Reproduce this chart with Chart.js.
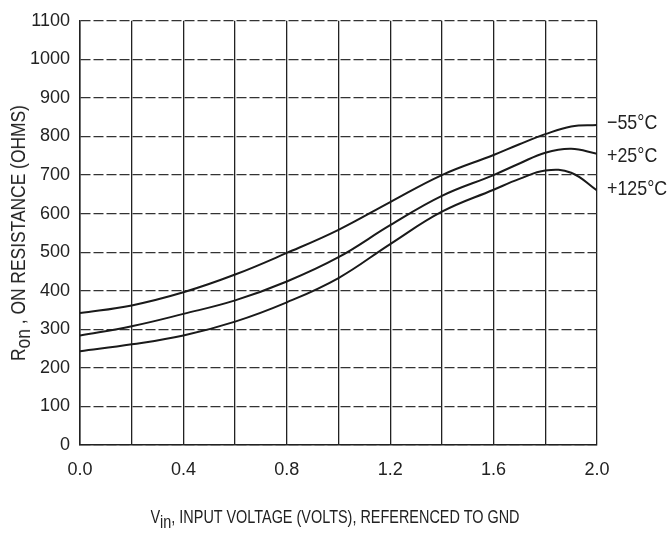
<!DOCTYPE html>
<html>
<head>
<meta charset="utf-8">
<script src="https://cdn.jsdelivr.net/npm/chart.js@4.4.1/dist/chart.umd.min.js"></script>
<style>
  body { margin: 0; background: #fff; }
  #wrap { position: relative; width: 670px; height: 536px; font-family: "Liberation Sans", Arial, sans-serif; color: #222; }
  #mycanvas { position: absolute; left: 0; top: 0; }
  .lbl { position: absolute; white-space: nowrap; line-height: 1; }
  #xtitle { font-size: 19px; left: 335px; top: 507px; transform: translateX(-50%) scaleX(0.76); }
  #ytitle { font-size: 20px; left: 18px; top: 233px; transform: translate(-50%, -50%) rotate(-90deg) scaleX(0.87); }
  sub { font-size: 1em; vertical-align: -5px; line-height: 0; }
  .tl { font-size: 21px; transform: scaleX(0.85); transform-origin: left center; }
</style>
</head>
<body>
<div id="wrap">
  <canvas id="mycanvas" width="670" height="536"></canvas>
  <div class="lbl" id="ytitle">R<sub>on</sub> , ON RESISTANCE (OHMS)</div>
  <div class="lbl" id="xtitle">V<sub>in</sub>, INPUT VOLTAGE (VOLTS), REFERENCED TO GND</div>
  <div class="lbl tl" style="left:607px;top:111px">&minus;55°C</div>
  <div class="lbl tl" style="left:607px;top:144px">+25°C</div>
  <div class="lbl tl" style="left:607px;top:177px">+125°C</div>
</div>
<script>
// input voltage (V) where the curves were read
var vin = [0, 0.2, 0.4, 0.6, 0.8, 1.0, 1.2, 1.4, 1.6, 1.7, 1.8, 1.9, 2.0];
// on resistance (ohms) per temperature
var rMinus55 = [342, 362, 396, 442, 498, 558, 630, 700, 752, 780, 806, 826, 830];
var rPlus25  = [284, 308, 340, 375, 424, 487, 570, 646, 700, 730, 758, 768, 755];
var rPlus125 = [243, 261, 284, 320, 370, 433, 521, 605, 662, 690, 712, 706, 660];
var seriesNames = ["-55°C", "+25°C", "+125°C"];
var yTicks = [0, 100, 200, 300, 400, 500, 600, 700, 800, 900, 1000, 1100];

function pts(vals) {
  var out = [];
  for (var i in vin) {
    out.push({x: vin[i], y: vals[i]});
  }
  return out;
}

var lineStyle = {
  fill: false,
  borderColor: "#1a1a1a",
  borderWidth: 2,
  pointRadius: 0,
  tension: 0.4
};

var chartdata = {
  datasets: [
    Object.assign({label: seriesNames[0], data: pts(rMinus55)}, lineStyle),
    Object.assign({label: seriesNames[1], data: pts(rPlus25)}, lineStyle),
    Object.assign({label: seriesNames[2], data: pts(rPlus125)}, lineStyle)
  ]
};

var font = {family: "'Liberation Sans', Arial, sans-serif", size: 18};

var ctx = document.getElementById("mycanvas");
var LineGraph = new Chart(ctx, {
  type: "line",
  data: chartdata,
  options: {
    responsive: false,
    animation: false,
    layout: {padding: {left: 0, right: 73, top: 14, bottom: 0}},
    plugins: {legend: {display: false}, tooltip: {enabled: false}},
    scales: {
      x: {
        type: "linear",
        min: 0,
        max: 2,
        afterFit: function(s) { s.height = 91; },
        border: {color: "#222", width: 1.5},
        grid: {color: "#222", lineWidth: 1.3, drawTicks: false},
        ticks: {
          stepSize: 0.2,
          padding: 14,
          color: "#222",
          font: font,
          callback: function(v) {
            return Math.round(v * 10) % 4 === 0 ? v.toFixed(1) : "";
          }
        }
      },
      y: {
        min: 0,
        max: 1100,
        afterFit: function(s) { s.width = 80; },
        afterBuildTicks: function(s) {
          s.ticks = yTicks.map(function(v) { return {value: v}; });
        },
        border: {color: "#222", width: 1.5, dash: [10, 3]},
        grid: {color: "#333", lineWidth: 1.3, drawTicks: false},
        ticks: {
          padding: 10,
          color: "#222",
          font: font,
          callback: function(v) { return String(v); }
        }
      }
    }
  }
});
</script>
</body>
</html>
